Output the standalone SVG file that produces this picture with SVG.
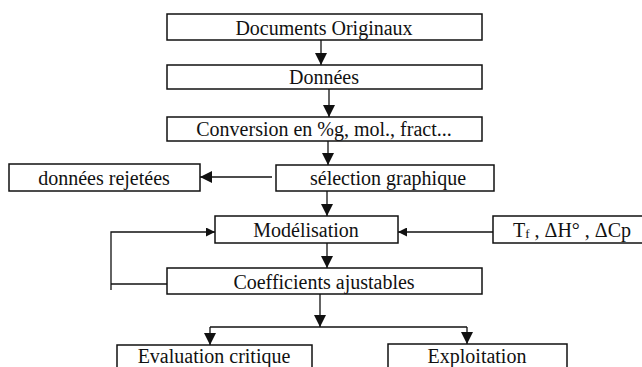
<svg xmlns="http://www.w3.org/2000/svg" width="642" height="367" viewBox="0 0 642 367">
<style>
.box{fill:#fff;stroke:#111;stroke-width:1.5}
.t{font-family:"Liberation Serif","Times New Roman",serif;font-size:20px;fill:#111;text-anchor:middle}
.c{fill:none;stroke:#111;stroke-width:1.3}
</style>
<defs>
<marker id="ah" viewBox="0 0 12 12" refX="12" refY="6" markerWidth="12" markerHeight="12" markerUnits="userSpaceOnUse" orient="auto">
<path d="M0,0 L12,6 L0,12 Z" fill="#111"/>
</marker>
<marker id="as" viewBox="0 0 10 10" refX="10" refY="5" markerWidth="9" markerHeight="9" markerUnits="userSpaceOnUse" orient="auto">
<path d="M0,0 L10,5 L0,10 Z" fill="#111"/>
</marker>
</defs>
<rect width="642" height="367" fill="#fff"/>
<g id="connectors">
<path class="c" d="M321,40 V65" marker-end="url(#ah)"/>
<path class="c" d="M329,89 V117" marker-end="url(#ah)"/>
<path class="c" d="M328,141 V165" marker-end="url(#ah)"/>
<path class="c" d="M272,177 H200" marker-end="url(#ah)"/>
<path class="c" d="M327,191 V216" marker-end="url(#ah)"/>
<path class="c" d="M493,232 H398" marker-end="url(#as)"/>
<path class="c" d="M327,243 V268" marker-end="url(#ah)"/>
<path class="c" d="M167,284 H111"/>
<path class="c" d="M111,290 V232 H215" marker-end="url(#as)"/>
<path class="c" d="M320,286 V327" marker-end="url(#ah)"/>
<path class="c" d="M467,327 H210"/>
<path class="c" d="M467,327 V344" marker-end="url(#ah)"/>
<path class="c" d="M210,327 V345" marker-end="url(#ah)"/>
</g>
<g id="documents"><rect class="box" x="167" y="14" width="315" height="26"/><text class="t" x="324" y="35">Documents Originaux</text></g>
<g id="donnees"><rect class="box" x="167" y="65" width="315" height="24"/><text class="t" x="324" y="84">Données</text></g>
<g id="conversion"><rect class="box" x="167" y="117" width="315" height="24"/><text class="t" x="324" y="136">Conversion en %g, mol., fract...</text></g>
<g id="rejetees"><rect class="box" x="9" y="164" width="191" height="27"/><text class="t" x="104" y="185">données rejetées</text></g>
<g id="selection"><rect class="box" x="276" y="165" width="218" height="26"/><text class="t" x="388" y="185">sélection graphique</text></g>
<g id="modelisation"><rect class="box" x="215" y="216" width="183" height="27"/><text class="t" x="306" y="237">Modélisation</text></g>
<g id="parametres"><rect class="box" x="493" y="216" width="155" height="27"/><text class="t" x="572" y="237">T<tspan font-size="13" dy="1">f</tspan><tspan dy="-1"> , ΔH° , ΔCp</tspan></text></g>
<g id="coefficients"><rect class="box" x="167" y="268" width="315" height="26"/><text class="t" x="324" y="289">Coefficients ajustables</text></g>
<g id="evaluation"><rect class="box" x="117" y="345" width="195" height="30"/><text class="t" x="214" y="363">Evaluation critique</text></g>
<g id="exploitation"><rect class="box" x="388" y="344" width="179" height="31"/><text class="t" x="477" y="363">Exploitation</text></g>
</svg>
